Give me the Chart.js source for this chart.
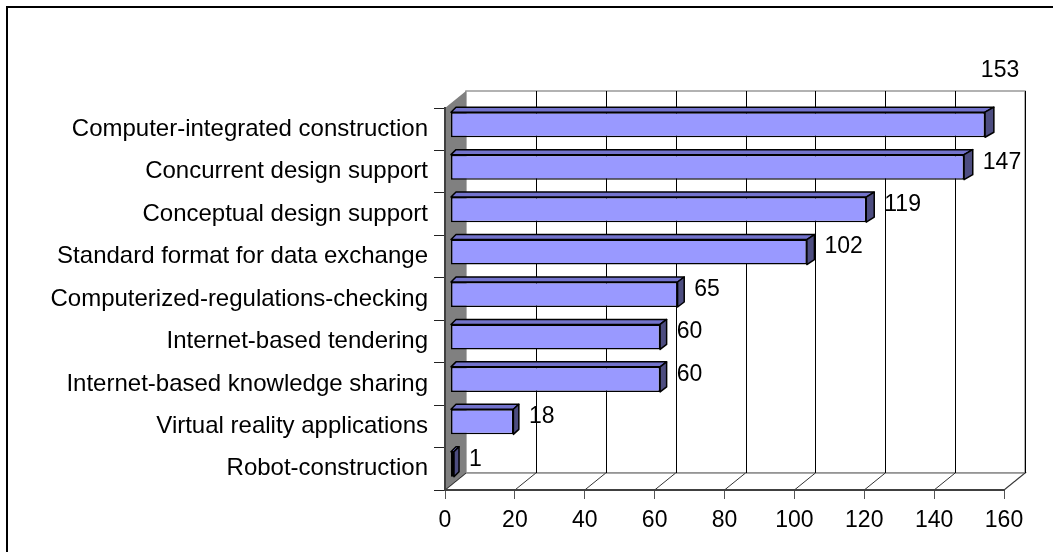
<!DOCTYPE html>
<html lang="en">
<head>
<meta charset="utf-8">
<title>Survey results</title>
<script src="https://cdn.jsdelivr.net/npm/chart.js"></script>
<style>
  html, body { margin: 0; padding: 0; background: #fff; }
  #wrap { width: 1053px; height: 552px; }
</style>
</head>
<body>
<div id="wrap"><canvas id="chart" width="1053" height="552"></canvas></div>
<script>
const categories = [
  'Computer-integrated construction',
  'Concurrent design support',
  'Conceptual design support',
  'Standard format for data exchange',
  'Computerized-regulations-checking',
  'Internet-based tendering',
  'Internet-based knowledge sharing',
  'Virtual reality applications',
  'Robot-construction'
];
const counts = [153, 147, 119, 102, 65, 60, 60, 18, 1];
const xTickValues = [0, 20, 40, 60, 80, 100, 120, 140, 160];

const FONT_FAMILY = '"Liberation Sans", Arial, sans-serif';
const FONT_SIZE = 23;
const LABEL_SIZE = 24;

// depth of the walls and floor
const WALL_DX = 21, WALL_DY = -17;
// bars sit a little behind the front plane
const BAR_DX = 5.5, BAR_DY = -4.5;

function barDepth(x, area) {
  const t = (x - area.left) / (area.right - area.left);
  return { dx: 5 + 4 * t, dy: -5 };
}

const walls = {
  id: 'walls',
  beforeDraw(chart) {
    const { ctx, chartArea: a } = chart;
    const xs = chart.scales.x;
    const bl = a.left + WALL_DX, br = a.right + WALL_DX;
    const bt = a.top + WALL_DY, bb = a.bottom + WALL_DY;
    ctx.save();

    // outer frame
    ctx.strokeStyle = '#000';
    ctx.lineWidth = 2;
    ctx.strokeRect(7, 7, 1100, 600);

    // back wall
    ctx.fillStyle = '#fff';
    ctx.fillRect(bl, bt, br - bl, bb - bt);
    ctx.strokeStyle = '#999';
    ctx.lineWidth = 1.5;
    ctx.strokeRect(bl, bt, br - bl, bb - bt);

    // floor
    ctx.beginPath();
    ctx.moveTo(a.left, a.bottom);
    ctx.lineTo(a.right, a.bottom);
    ctx.lineTo(br, bb);
    ctx.lineTo(bl, bb);
    ctx.closePath();
    ctx.fill();
    ctx.strokeStyle = '#8c8c8c';
    ctx.stroke();

    // left wall
    ctx.fillStyle = '#808080';
    ctx.beginPath();
    ctx.moveTo(a.left, a.top);
    ctx.lineTo(bl, bt);
    ctx.lineTo(bl, bb);
    ctx.lineTo(a.left, a.bottom);
    ctx.closePath();
    ctx.fill();

    // gridlines on the back wall and their runs across the floor
    xTickValues.forEach(v => {
      const px = xs.getPixelForValue(v);
      if (v > 0) {
        ctx.strokeStyle = '#000';
        ctx.lineWidth = 1;
        ctx.beginPath();
        ctx.moveTo(Math.round(px + WALL_DX) + 0.5, bt);
        ctx.lineTo(Math.round(px + WALL_DX) + 0.5, bb);
        ctx.stroke();
      }
      ctx.strokeStyle = '#333';
      ctx.lineWidth = 1;
      ctx.beginPath();
      ctx.moveTo(px, a.bottom);
      ctx.lineTo(px + WALL_DX, bb);
      ctx.stroke();
    });
    ctx.restore();
  }
};

const bars3d = {
  id: 'bars3d',
  beforeDatasetsDraw(chart) {
    chart.ctx.save();
    chart.ctx.translate(BAR_DX, BAR_DY);
  },
  afterDatasetsDraw(chart) {
    const { ctx, chartArea: a } = chart;
    const meta = chart.getDatasetMeta(0);
    ctx.lineWidth = 1.5;
    ctx.lineJoin = 'round';
    ctx.strokeStyle = '#000';
    meta.data.forEach(bar => {
      const top = bar.y - bar.height / 2, bottom = bar.y + bar.height / 2;
      const d0 = barDepth(bar.base, a), d1 = barDepth(bar.x, a);
      // top face
      ctx.fillStyle = '#7373cc';
      ctx.beginPath();
      ctx.moveTo(bar.base, top);
      ctx.lineTo(bar.x, top);
      ctx.lineTo(bar.x + d1.dx, top + d1.dy);
      ctx.lineTo(bar.base + d0.dx, top + d0.dy);
      ctx.closePath();
      ctx.fill();
      ctx.stroke();
      // end face
      ctx.fillStyle = '#4d4d80';
      ctx.beginPath();
      ctx.moveTo(bar.x, top);
      ctx.lineTo(bar.x + d1.dx, top + d1.dy);
      ctx.lineTo(bar.x + d1.dx, bottom + d1.dy);
      ctx.lineTo(bar.x, bottom);
      ctx.closePath();
      ctx.fill();
      ctx.stroke();
    });
    ctx.restore();

    // value labels
    ctx.save();
    ctx.font = FONT_SIZE + 'px ' + FONT_FAMILY;
    ctx.fillStyle = '#000';
    ctx.textBaseline = 'middle';
    ctx.textAlign = 'left';
    meta.data.forEach((bar, i) => {
      const text = String(counts[i]);
      const end = bar.x + BAR_DX;
      const d = barDepth(end, a);
      const w = ctx.measureText(text).width;
      let lx = end + d.dx + 10;
      let ly = bar.y + BAR_DY - 5;
      if (lx + w > a.right + WALL_DX) {
        // no room beside the bar, so lift the label above the wall
        lx = end + 15 - w / 2;
        ly = a.top + WALL_DY - 20;
      }
      ctx.fillText(text, lx, ly);
    });
    ctx.restore();
  }
};

new Chart(document.getElementById('chart'), {
  type: 'bar',
  data: {
    labels: categories,
    datasets: [{
      data: counts,
      backgroundColor: '#9999ff',
      borderColor: '#000',
      borderWidth: 1.5,
      borderSkipped: false,
      categoryPercentage: 0.59,
      barPercentage: 1
    }]
  },
  options: {
    indexAxis: 'y',
    responsive: false,
    animation: false,
    layout: { padding: { top: 108, right: 49, left: 0, bottom: 0 } },
    plugins: {
      legend: { display: false },
      tooltip: { enabled: false }
    },
    scales: {
      x: {
        min: xTickValues[0],
        max: xTickValues[xTickValues.length - 1],
        afterBuildTicks: scale => { scale.ticks = xTickValues.map(v => ({ value: v })); },
        afterFit: scale => { scale.height = 62; },
        grid: { drawOnChartArea: false, drawTicks: true, tickLength: 9, color: '#555' },
        border: { display: true, color: '#404040', width: 2 },
        ticks: { color: '#000', padding: 8, maxRotation: 0, font: { family: FONT_FAMILY, size: FONT_SIZE } }
      },
      y: {
        afterFit: scale => { scale.width = 445; },
        grid: { drawOnChartArea: false, drawTicks: true, tickLength: 11, color: '#222', offset: true },
        border: { display: true, color: '#404040', width: 2 },
        ticks: { color: '#000', padding: 6, font: { family: FONT_FAMILY, size: LABEL_SIZE } }
      }
    }
  },
  plugins: [walls, bars3d]
});
</script>
</body>
</html>
